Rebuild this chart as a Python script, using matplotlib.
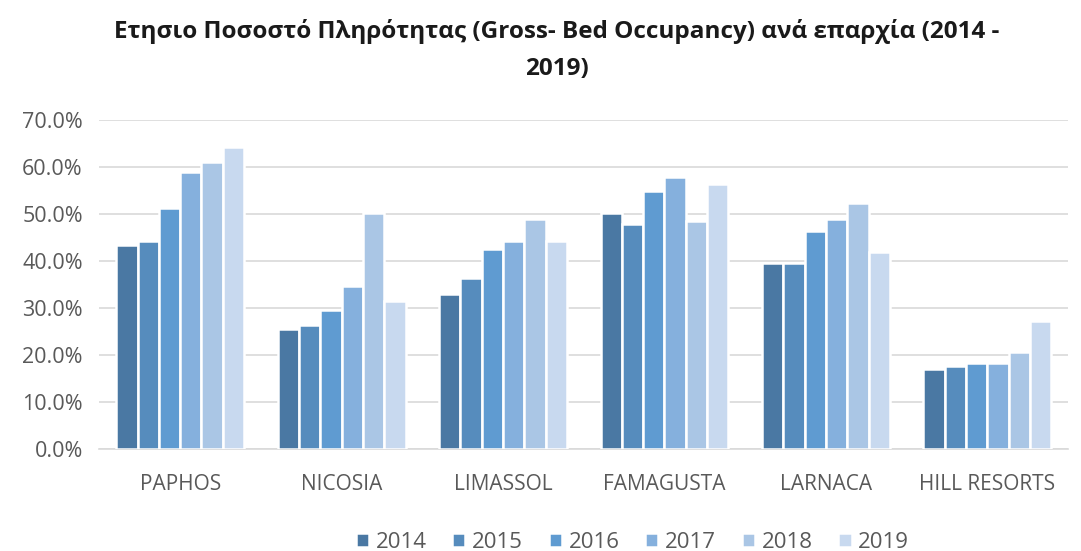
import numpy as np
import matplotlib
matplotlib.use('Agg')
import matplotlib.pyplot as plt
from matplotlib.ticker import FuncFormatter

plt.rcParams['font.family'] = ['Open Sans', 'DejaVu Sans']

regions = ['PAPHOS', 'NICOSIA', 'LIMASSOL', 'FAMAGUSTA', 'LARNACA', 'HILL RESORTS']
years = ['2014', '2015', '2016', '2017', '2018', '2019']

occ_2014 = [43.5, 25.5, 33.0, 50.2, 39.7, 17.0]
occ_2015 = [44.3, 26.5, 36.5, 47.8, 39.7, 17.7]
occ_2016 = [51.4, 29.5, 42.5, 55.0, 46.3, 18.3]
occ_2017 = [58.9, 34.8, 44.3, 58.0, 48.9, 18.3]
occ_2018 = [61.0, 50.2, 49.0, 48.5, 52.4, 20.6]
occ_2019 = [64.3, 31.5, 44.3, 56.3, 42.0, 27.2]

series = [occ_2014, occ_2015, occ_2016, occ_2017, occ_2018, occ_2019]
colors = ['#4a78a3', '#568cbd', '#5f9bd1', '#85b0dd', '#aac6e5', '#c8d9ef']

fig = plt.figure(figsize=(10.81, 5.51), dpi=100)
ax = fig.add_axes([0.092, 0.185, 0.896, 0.597])

x = np.arange(len(regions))
w = 0.132
for i, (vals, c) in enumerate(zip(series, colors)):
    ax.bar(x + (i - 2.5) * w, vals, w, color=c, edgecolor='white',
           linewidth=1.8, label=years[i], zorder=3)

ax.set_ylim(0, 70)
ax.set_xlim(-0.5, 5.5)
ax.set_yticks(np.arange(0, 71, 10))
ax.yaxis.set_major_formatter(FuncFormatter(lambda v, p: f'{v:.1f}%'))
ax.grid(axis='y', color='#d9d9d9', linewidth=1.2, zorder=0)
ax.set_xticks(x)
ax.set_xticklabels(regions)
ax.tick_params(axis='x', length=0, labelsize=15, colors='#595959', pad=18)
ax.tick_params(axis='y', length=0, labelsize=15.5, colors='#595959', pad=12)
for s in ['top', 'right', 'left']:
    ax.spines[s].set_visible(False)
ax.spines['bottom'].set_color('#d9d9d9')
ax.spines['bottom'].set_linewidth(1.2)

fig.text(0.515, 0.966, 'Ετησιο Ποσοστό Πληρότητας (Gross- Bed Occupancy) ανά επαρχία (2014 -\n2019)',
         ha='center', va='top', fontsize=17.5, fontweight='bold', color='#1a1a1a',
         linespacing=1.75)

fig.legend(loc='lower center', bbox_to_anchor=(0.585, -0.04), ncol=6, frameon=False,
           fontsize=16, labelcolor='#595959', handlelength=0.6, handleheight=0.6,
           handletextpad=0.3, columnspacing=1.15)

fig.savefig('out.png', dpi=100)
